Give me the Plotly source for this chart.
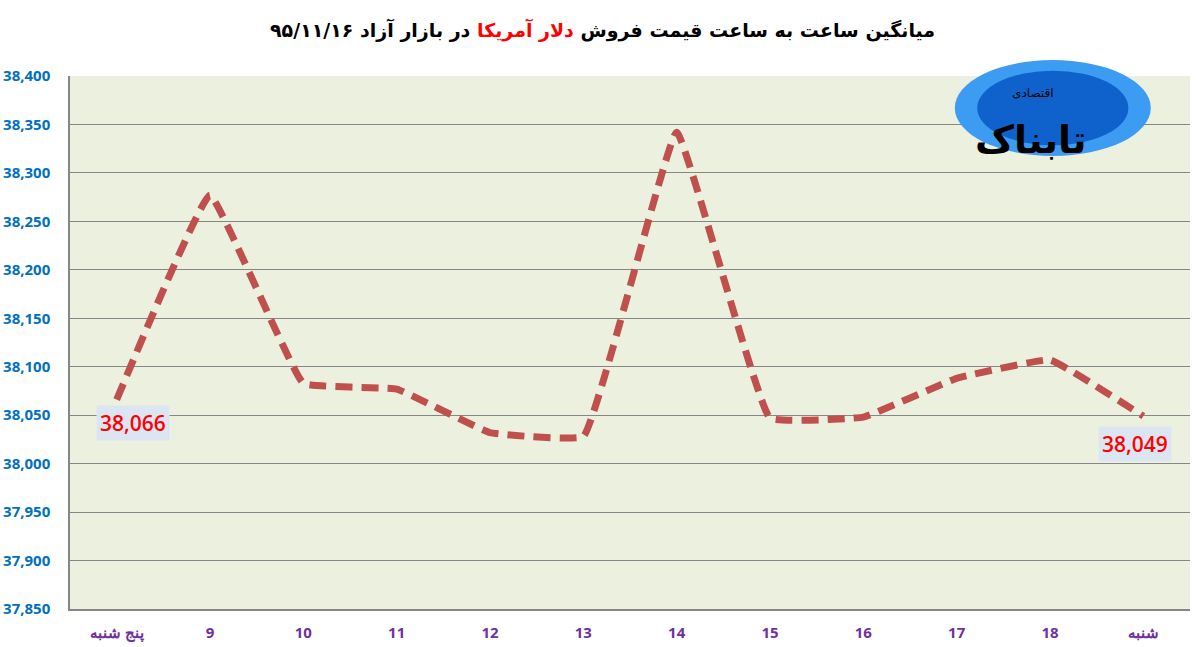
import plotly.graph_objects as go

# hourly average sell price of the US dollar, free market 95/11/16
hours = ["پنج شنبه", "9", "10", "11", "12", "13", "14", "15", "16", "17", "18", "شنبه"]
prices = [38066, 38277, 38083, 38077, 38032, 38028, 38342, 38047, 38048, 38088, 38107, 38049]

y_ticks = list(range(37850, 38401, 50))

fig = go.Figure()

fig.add_trace(go.Scatter(
    x=hours, y=prices,
    mode="lines",
    line=dict(color="#C0504D", width=7, dash="17px,9px", shape="spline", smoothing=0.25),
    hoverinfo="x+y",
))

# first / last value labels
fig.add_annotation(x=hours[0], y=prices[0], text="38,066", showarrow=False,
                   xshift=16, yshift=-23, bgcolor="#DCE6F2", borderpad=3,
                   font=dict(family="Open Sans", size=21, color="#FF0000", weight=600))
fig.add_annotation(x=hours[-1], y=prices[-1], text="38,049", showarrow=False,
                   xshift=-8, yshift=-28, bgcolor="#DCE6F2", borderpad=3,
                   font=dict(family="Open Sans", size=21, color="#FF0000", weight=600))

# title
fig.add_annotation(
    xref="paper", yref="paper", x=0.475, y=1.0, yanchor="middle", yshift=46, showarrow=False,
    text="<b>میانگین ساعت به ساعت قیمت فروش <span style='color:#FF0000'>دلار آمریکا</span> در بازار آزاد ۹۵/۱۱/۱۶</b>",
    font=dict(family="DejaVu Sans", size=19, color="black"),
)

# logo (rough): light rim + darker core
fig.add_shape(type="circle", xref="paper", yref="paper",
              x0=0.79, x1=0.965, y0=0.85, y1=1.03,
              fillcolor="#3C9CF2", line=dict(width=0), layer="above")
fig.add_shape(type="circle", xref="paper", yref="paper",
              x0=0.81, x1=0.945, y0=0.87, y1=1.01,
              fillcolor="#0F62CC", line=dict(width=0), layer="above")
fig.add_annotation(xref="paper", yref="paper", x=0.91, y=0.925, showarrow=False,
                   text="<b>تابناک</b>", font=dict(family="DejaVu Sans", size=38, color="black"))
fig.add_annotation(xref="paper", yref="paper", x=0.88, y=0.985, showarrow=False,
                   text="اقتصادی", font=dict(family="DejaVu Sans", size=12, color="black"))

fig.update_layout(
    width=1197, height=647,
    margin=dict(l=70, r=7, t=76, b=38),
    paper_bgcolor="white",
    plot_bgcolor="#ECF0DF",
    showlegend=False,
    xaxis=dict(
        type="category", range=[-0.5, len(hours) - 0.5],
        showgrid=False, showline=True, linecolor="#868686", linewidth=1.5,
        ticks="", ticklabelstandoff=9, automargin=False,
        tickfont=dict(family="Open Sans", size=15, color="#7030A0", weight="bold"),
        fixedrange=True,
    ),
    yaxis=dict(
        range=[37850, 38400], tickvals=y_ticks, tickformat=",",
        showgrid=True, gridcolor="#868686", gridwidth=1.2,
        showline=True, linecolor="#868686", linewidth=1.5, zeroline=False,
        ticks="", ticklabelstandoff=15, automargin=False,
        tickfont=dict(family="Open Sans", size=15, color="#0070C0", weight="bold"),
        fixedrange=True,
    ),
)

# drop the browser's default page margin so the chart sits at the window corner
fig.write_html("out.html", config={"displayModeBar": False},
               post_script="document.body.style.margin='0px';")
